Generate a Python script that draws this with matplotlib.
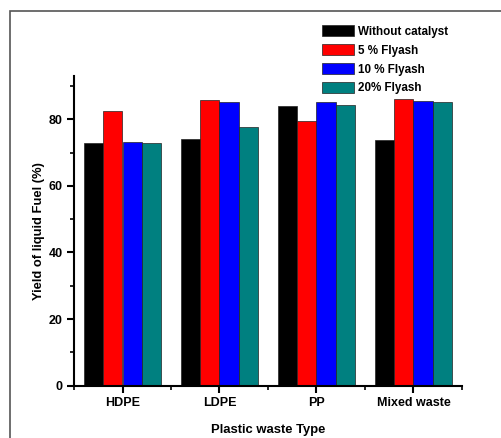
import numpy as np
import matplotlib.pyplot as plt
from matplotlib.patches import Rectangle
from matplotlib.ticker import MultipleLocator

plt.rcParams['font.family'] = 'Liberation Sans'
plt.rcParams['font.weight'] = 'bold'

# yield of liquid fuel (%)
categories = ['HDPE', 'LDPE', 'PP', 'Mixed waste']
series_names = ['Without catalyst', '5 % Flyash', '10 % Flyash', '20% Flyash']
without_cat = [72.8, 74.0, 84.0, 73.8]
flyash_5 = [82.6, 85.8, 79.6, 86.1]
flyash_10 = [73.1, 85.3, 85.1, 85.5]
flyash_20 = [72.8, 77.8, 84.3, 85.1]
colors = ['#000000', '#ff0000', '#0000ff', '#008080']

fig = plt.figure(figsize=(5.02, 4.38), dpi=100)
ax = fig.add_axes([74/502, 1-385.7/438, 388/502, (385.7-76)/438])

# gray frame round the whole graph page
fig.patches.append(Rectangle((10/502, -0.2), 1.2, 1.2 - 11/438, transform=fig.transFigure,
                             fill=False, edgecolor='#555555', linewidth=1.2))

x = np.arange(1, len(categories) + 1)
w = 0.2
all_series = [without_cat, flyash_5, flyash_10, flyash_20]
for i, (vals, name, c) in enumerate(zip(all_series, series_names, colors)):
    ax.bar(x + (i - 1.5) * w, vals, width=w, color=c, edgecolor='#222222',
           linewidth=0.5, label=name)

ax.set_xlim(0.5, 4.5)
ax.set_ylim(0, 93)
ax.set_xticks(x)
ax.set_xticklabels(categories, fontsize=9, fontweight='bold')
ax.xaxis.set_minor_locator(MultipleLocator(1, offset=0.5))
ax.yaxis.set_major_locator(MultipleLocator(20))
ax.yaxis.set_minor_locator(MultipleLocator(10))
for lab in ax.get_yticklabels():
    lab.set_fontsize(9)
    lab.set_fontweight('bold')

for s in ['top', 'right']:
    ax.spines[s].set_visible(False)
for s in ['left', 'bottom']:
    ax.spines[s].set_linewidth(1.5)
ax.tick_params(which='major', length=5, width=1.5, direction='out', pad=3)
ax.tick_params(which='minor', length=3, width=1.2, direction='out')

ax.set_xlabel('Plastic waste Type', fontsize=9.4, fontweight='bold', labelpad=11)
ax.set_ylabel('Yield of liquid Fuel (%)', fontsize=9.4, fontweight='bold', labelpad=3)

ax.legend(loc='upper left', bbox_to_anchor=(321.7/502, 1-25.5/438),
          bbox_transform=fig.transFigure, frameon=False, fontsize=8.4,
          handlelength=2.8, handleheight=1.05, handletextpad=0.32,
          labelspacing=0.55, borderpad=0, borderaxespad=0)

fig.savefig('out.png', dpi=100)
